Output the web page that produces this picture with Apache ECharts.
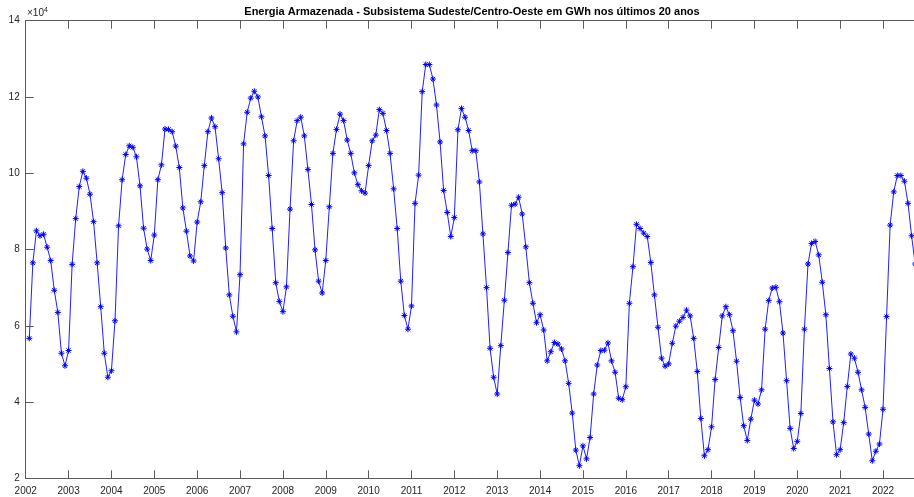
<!DOCTYPE html>
<html>
<head>
<meta charset="utf-8">
<script src="https://cdn.jsdelivr.net/npm/echarts@6/dist/echarts.min.js"></script>
<style>
html,body{margin:0;padding:0;background:#fff;overflow:hidden;width:914px;height:497px}
#chart{width:940px;height:497px}
</style>
</head>
<body>
<div id="chart"></div>
<script>
// Energia armazenada (x10^4 GWh), monthly values
const years = [2002,2003,2004,2005,2006,2007,2008,2009,2010,2011,2012,2013,2014,2015,2016,2017,2018,2019,2020,2021,2022];
const v2002 = [5.67, 7.65, 8.49, 8.36, 8.40, 8.06, 7.71, 6.93, 6.35, 5.28, 4.95, 5.35];
const v2003 = [7.61, 8.81, 9.65, 10.05, 9.87, 9.45, 8.73, 7.65, 6.50, 5.28, 4.65, 4.82];
const v2004 = [6.13, 8.62, 9.83, 10.49, 10.72, 10.68, 10.43, 9.67, 8.56, 8.01, 7.71, 8.38];
const v2005 = [9.83, 10.22, 11.16, 11.15, 11.09, 10.71, 10.15, 9.09, 8.48, 7.83, 7.70, 8.72];
const v2006 = [9.25, 10.20, 11.09, 11.45, 11.22, 10.38, 9.49, 8.04, 6.81, 6.25, 5.84, 7.34];
const v2007 = [10.77, 11.60, 11.97, 12.15, 12.00, 11.48, 10.98, 9.94, 8.55, 7.13, 6.64, 6.37];
const v2008 = [7.02, 9.06, 10.85, 11.38, 11.47, 10.98, 10.10, 9.18, 7.99, 7.17, 6.86, 7.71];
const v2009 = [9.12, 10.52, 11.15, 11.55, 11.38, 10.87, 10.52, 10.01, 9.70, 9.54, 9.48, 10.20];
const v2010 = [10.85, 11.00, 11.67, 11.57, 11.12, 10.52, 9.59, 8.55, 7.17, 6.27, 5.91, 6.52];
const v2011 = [9.21, 9.95, 12.14, 12.85, 12.85, 12.47, 11.79, 10.82, 9.55, 8.97, 8.34, 8.84];
const v2012 = [11.14, 11.70, 11.47, 11.12, 10.59, 10.59, 9.77, 8.41, 7.00, 5.41, 4.65, 4.21];
const v2013 = [5.48, 6.67, 7.92, 9.16, 9.19, 9.37, 8.93, 8.07, 7.13, 6.59, 6.08, 6.29];
const v2014 = [5.89, 5.08, 5.32, 5.56, 5.52, 5.39, 5.08, 4.49, 3.71, 2.74, 2.33, 2.85];
const v2015 = [2.51, 3.07, 4.21, 4.97, 5.35, 5.36, 5.55, 5.08, 4.78, 4.10, 4.06, 4.40];
const v2016 = [6.59, 7.55, 8.66, 8.55, 8.43, 8.34, 7.66, 6.81, 5.96, 5.15, 4.94, 5.00];
const v2017 = [5.54, 5.99, 6.12, 6.22, 6.41, 6.26, 5.67, 4.80, 3.57, 2.59, 2.75, 3.35];
const v2018 = [4.59, 5.43, 6.26, 6.50, 6.29, 5.87, 5.07, 4.12, 3.38, 2.99, 3.55, 4.05];
const v2019 = [3.95, 4.32, 5.91, 6.66, 6.99, 7.01, 6.63, 5.81, 4.56, 3.31, 2.78, 2.97];
const v2020 = [3.70, 5.91, 7.62, 8.16, 8.21, 7.86, 7.14, 6.29, 4.88, 3.48, 2.62, 2.75];
const v2021 = [3.46, 4.41, 5.26, 5.15, 4.78, 4.32, 3.86, 3.16, 2.46, 2.71, 2.90, 3.81];
const v2022 = [6.24, 8.64, 9.51, 9.94, 9.94, 9.79, 9.21, 8.36, 7.62];
const yTicks = [2, 4, 6, 8, 10, 12, 14];
const titleText = 'Energia Armazenada - Subsistema Sudeste/Centro-Oeste em GWh nos últimos 20 anos';

const byYear = [v2002,v2003,v2004,v2005,v2006,v2007,v2008,v2009,v2010,v2011,v2012,v2013,v2014,v2015,v2016,v2017,v2018,v2019,v2020,v2021,v2022];
// each monthly value is placed at the end of its month (decimal year)
const seriesData = [];
byYear.forEach((arr, yi) => {
  arr.forEach((v, m) => seriesData.push([years[yi] + (m + 1) / 12, v]));
});

const FONT = '"Liberation Sans", Arial, Helvetica, sans-serif';
const AX = '#5a5a5a';
const TXT = '#262626';

const chart = echarts.init(document.getElementById('chart'), null, {renderer: 'canvas'});
const xCommon = {
  type: 'value', min: 2002, max: 2023, interval: 1,
  axisLine: {show: true, onZero: false, lineStyle: {color: AX, width: 1}},
  axisTick: {show: true, inside: true, length: 8, lineStyle: {color: AX, width: 1}},
  splitLine: {show: false}
};
chart.setOption({
  animation: false,
  backgroundColor: '#ffffff',
  grid: {left: 25.7, top: 20.7, width: 901, height: 457.6, containLabel: false},
  graphic: [
    {type: 'text', x: 472, y: 12, style: {text: titleText, fontFamily: FONT, fontSize: 11, fontWeight: 'bold', fill: '#000', textAlign: 'center', textVerticalAlign: 'middle'}},
    {type: 'text', x: 27, y: 13, style: {
      rich: {a: {fontFamily: FONT, fontSize: 10, fill: TXT}, s: {fontFamily: FONT, fontSize: 7, fill: TXT, verticalAlign: 'top', padding: [0,0,5,0]}},
      text: '{a|\u00d710}{s|4}', textVerticalAlign: 'middle'}}
  ],
  xAxis: [
    Object.assign({}, xCommon, {
      position: 'bottom',
      axisLabel: {show: true, margin: 8, color: TXT, fontFamily: FONT, fontSize: 10, formatter: v => String(v)}
    }),
    Object.assign({}, xCommon, {
      position: 'top',
      axisLabel: {show: false}
    })
  ],
  yAxis: {
    type: 'value', min: yTicks[0], max: yTicks[yTicks.length - 1], interval: 2,
    axisLine: {show: true, onZero: false, lineStyle: {color: AX, width: 1}},
    axisTick: {show: true, inside: true, length: 8, lineStyle: {color: AX, width: 1}},
    splitLine: {show: false},
    axisLabel: {margin: 6, color: TXT, fontFamily: FONT, fontSize: 10, formatter: v => String(v)}
  },
  series: [{
    type: 'line',
    xAxisIndex: 0,
    data: seriesData,
    showAllSymbol: true,
    symbol: 'path://M5,0L5,10M0,5L10,5M1.5,1.5L8.5,8.5M8.5,1.5L1.5,8.5',
    symbolSize: 6,
    itemStyle: {color: 'rgba(0,0,0,0)', borderColor: '#0000ff', borderWidth: 1},
    lineStyle: {color: '#2020ff', width: 1},
    emphasis: {disabled: true},
    clip: false
  }]
});
</script>
</body>
</html>
